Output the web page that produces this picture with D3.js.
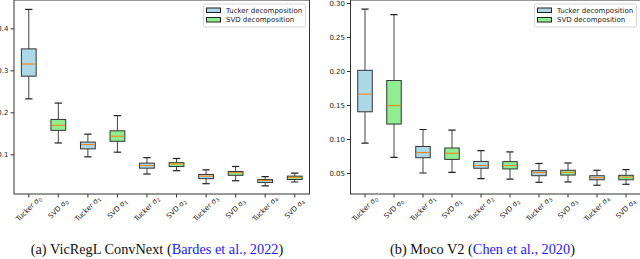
<!DOCTYPE html>
<html>
<head>
<meta charset="utf-8">
<script src="https://cdn.jsdelivr.net/npm/d3@7"></script>
<style>
  body { margin: 0; background: #fff; }
  svg { display: block; }
</style>
</head>
<body>
<svg width="640" height="259"></svg>
<script>
// box stats: [whisker low, q1, median, q3, whisker high]
var sigmas = ["0", "1", "2", "3", "4"];

var vicTucker = [
    [0.232, 0.286, 0.315, 0.351, 0.445],
    [0.094, 0.113, 0.123, 0.129, 0.148],
    [0.053, 0.067, 0.073, 0.079, 0.092],
    [0.030, 0.042, 0.048, 0.052, 0.063],
    [0.025, 0.033, 0.038, 0.040, 0.047]
];
var vicSvd = [
    [0.127, 0.157, 0.169, 0.183, 0.222],
    [0.105, 0.131, 0.143, 0.156, 0.192],
    [0.061, 0.071, 0.077, 0.080, 0.090],
    [0.037, 0.050, 0.056, 0.059, 0.071],
    [0.034, 0.040, 0.045, 0.048, 0.055]
];
var mocoTucker = [
    [0.094, 0.140, 0.166, 0.201, 0.291],
    [0.050, 0.0725, 0.080, 0.089, 0.114],
    [0.0417, 0.057, 0.061, 0.067, 0.083],
    [0.0363, 0.046, 0.0505, 0.0534, 0.064],
    [0.032, 0.040, 0.043, 0.046, 0.054]
];
var mocoSvd = [
    [0.073, 0.122, 0.149, 0.186, 0.283],
    [0.051, 0.070, 0.079, 0.0868, 0.113],
    [0.041, 0.056, 0.061, 0.0667, 0.081],
    [0.0368, 0.047, 0.051, 0.054, 0.0647],
    [0.0334, 0.040, 0.044, 0.0466, 0.055]
];

var vicTicks = [0.1, 0.2, 0.3, 0.4];
var mocoTicks = [0.05, 0.10, 0.15, 0.20, 0.25, 0.30];

var seriesNames = ["Tucker decomposition", "SVD decomposition"];
var seriesColors = ["#add8e6", "#90ee90"];

var svg = d3.select("svg");

function drawPanel(opt) {
    // interleave tucker / svd per sigma
    var boxes = [];
    sigmas.forEach(function (s, i) {
        boxes.push({ kind: "Tucker", sigma: s, stats: opt.tucker[i], color: seriesColors[0] });
        boxes.push({ kind: "SVD", sigma: s, stats: opt.svd[i], color: seriesColors[1] });
    });
    boxes.forEach(function (d, i) { d.id = i; });

    var x = d3.scaleBand()
        .domain(boxes.map(function (d) { return d.id; }))
        .range([opt.left, opt.right])
        .padding(0);
    var y = d3.scaleLinear()
        .domain(opt.yDomain)
        .range([opt.bottom, opt.top]);

    var g = svg.append("g");
    var bw = x.bandwidth() * 0.5;

    // clip for the marks
    var clipId = "clip" + opt.name;
    svg.append("clipPath").attr("id", clipId)
        .append("rect")
        .attr("x", opt.left).attr("y", opt.top)
        .attr("width", opt.right - opt.left).attr("height", opt.bottom - opt.top);

    var marks = g.append("g").attr("clip-path", "url(#" + clipId + ")");

    var box = marks.selectAll("g.box")
        .data(boxes)
        .enter().append("g")
        .attr("class", "box")
        .attr("transform", function (d) { return "translate(" + (x(d.id) + x.bandwidth() / 2) + ",0)"; });

    // whiskers
    box.append("line")
        .attr("x1", 0).attr("x2", 0)
        .attr("y1", function (d) { return y(d.stats[0]); })
        .attr("y2", function (d) { return y(d.stats[1]); })
        .attr("stroke", "#444").attr("stroke-width", 1);
    box.append("line")
        .attr("x1", 0).attr("x2", 0)
        .attr("y1", function (d) { return y(d.stats[3]); })
        .attr("y2", function (d) { return y(d.stats[4]); })
        .attr("stroke", "#444").attr("stroke-width", 1);
    // caps
    [0, 4].forEach(function (k) {
        box.append("line")
            .attr("x1", -bw / 4).attr("x2", bw / 4)
            .attr("y1", function (d) { return y(d.stats[k]); })
            .attr("y2", function (d) { return y(d.stats[k]); })
            .attr("stroke", "#222").attr("stroke-width", 1.2);
    });
    // box
    box.append("rect")
        .attr("x", -bw / 2)
        .attr("width", bw)
        .attr("y", function (d) { return y(d.stats[3]); })
        .attr("height", function (d) { return y(d.stats[1]) - y(d.stats[3]); })
        .attr("fill", function (d) { return d.color; })
        .attr("stroke", "#333").attr("stroke-width", 1);
    // median
    box.append("line")
        .attr("x1", -bw / 2 + 0.5).attr("x2", bw / 2 - 0.5)
        .attr("y1", function (d) { return y(d.stats[2]); })
        .attr("y2", function (d) { return y(d.stats[2]); })
        .attr("stroke", "#ff7f0e").attr("stroke-width", 1);

    // frame
    g.append("rect")
        .attr("x", opt.left).attr("y", opt.top)
        .attr("width", opt.right - opt.left).attr("height", opt.bottom - opt.top)
        .attr("fill", "none").attr("stroke", "#333").attr("stroke-width", 1);

    // y axis
    var yAxis = g.append("g")
        .attr("transform", "translate(" + opt.left + ",0)")
        .call(d3.axisLeft(y).tickValues(opt.ticks).tickFormat(d3.format(opt.fmt)).tickSize(3.5).tickPadding(2));
    yAxis.select(".domain").remove();
    yAxis.selectAll("text").attr("font-family", "DejaVu Sans").attr("font-size", 7).attr("fill", "#222");
    yAxis.selectAll("line").attr("stroke", "#333");

    // x axis ticks
    var xAxis = g.append("g")
        .attr("transform", "translate(0," + opt.bottom + ")")
        .call(d3.axisBottom(x).tickSize(3.5).tickFormat(""));
    xAxis.select(".domain").remove();
    xAxis.selectAll("line").attr("stroke", "#333");

    // rotated tick labels
    var lab = g.selectAll("text.xl")
        .data(boxes)
        .enter().append("text")
        .attr("class", "xl")
        .attr("font-family", "DejaVu Sans")
        .attr("font-size", 7)
        .attr("fill", "#222")
        .attr("text-anchor", "middle")
        .attr("dominant-baseline", "central")
        .attr("transform", function (d) {
            return "translate(" + (x(d.id) + x.bandwidth() / 2) + "," + (opt.bottom + 15) + ") rotate(-45)";
        });
    lab.append("tspan").attr("fill", "#222").text(function (d) { return d.kind + " \u03c3"; });
    lab.append("tspan").attr("fill", "#222").attr("font-size", 5).attr("dy", 1.5).text(function (d) { return d.sigma; });

    // legend
    var lg = g.append("g").attr("transform", "translate(" + opt.legendX + "," + (opt.top + 4) + ")");
    lg.append("rect")
        .attr("width", 102).attr("height", 23)
        .attr("rx", 1.5)
        .attr("fill", "#fff").attr("stroke", "#ccc").attr("stroke-width", 0.8);
    seriesNames.forEach(function (name, i) {
        lg.append("rect")
            .attr("x", 3).attr("y", 4 + i * 9.5)
            .attr("width", 14).attr("height", 4.5)
            .attr("fill", seriesColors[i]).attr("stroke", "#222").attr("stroke-width", 1);
        lg.append("text")
            .attr("x", 22.5).attr("y", 6.5 + i * 9.5)
            .attr("dominant-baseline", "central")
            .attr("font-family", "DejaVu Sans").attr("font-size", 7)
            .attr("fill", "#222")
            .text(name);
    });

    // caption
    var cap = svg.append("text")
        .attr("x", opt.capX).attr("y", 254)
        .attr("text-anchor", "middle")
        .attr("font-family", "Liberation Serif")
        .attr("font-size", 14.3)
        .attr("fill", "#111");
    cap.append("tspan").text(opt.capMain + " (");
    cap.append("tspan").attr("fill", "#1a1aff").text(opt.capCite);
    cap.append("tspan").text(")");
}

drawPanel({
    name: "a",
    tucker: vicTucker, svd: vicSvd,
    left: 14, right: 309.5, top: 0, bottom: 194,
    yDomain: [0.1 - 39.7 / 420, 0.1 + 154.3 / 420],
    ticks: vicTicks, fmt: ".1f",
    legendX: 203.5,
    capX: 157, capMain: "(a)  VicRegL ConvNext", capCite: "Bardes et al., 2022"
});

drawPanel({
    name: "b",
    tucker: mocoTucker, svd: mocoSvd,
    left: 350.5, right: 640.5, top: 0, bottom: 194,
    yDomain: [0.05 - 21 / 680, 0.05 + 173 / 680],
    ticks: mocoTicks, fmt: ".2f",
    legendX: 534.5,
    capX: 482.5, capMain: "(b)  Moco V2", capCite: "Chen et al., 2020"
});
</script>
</body>
</html>
